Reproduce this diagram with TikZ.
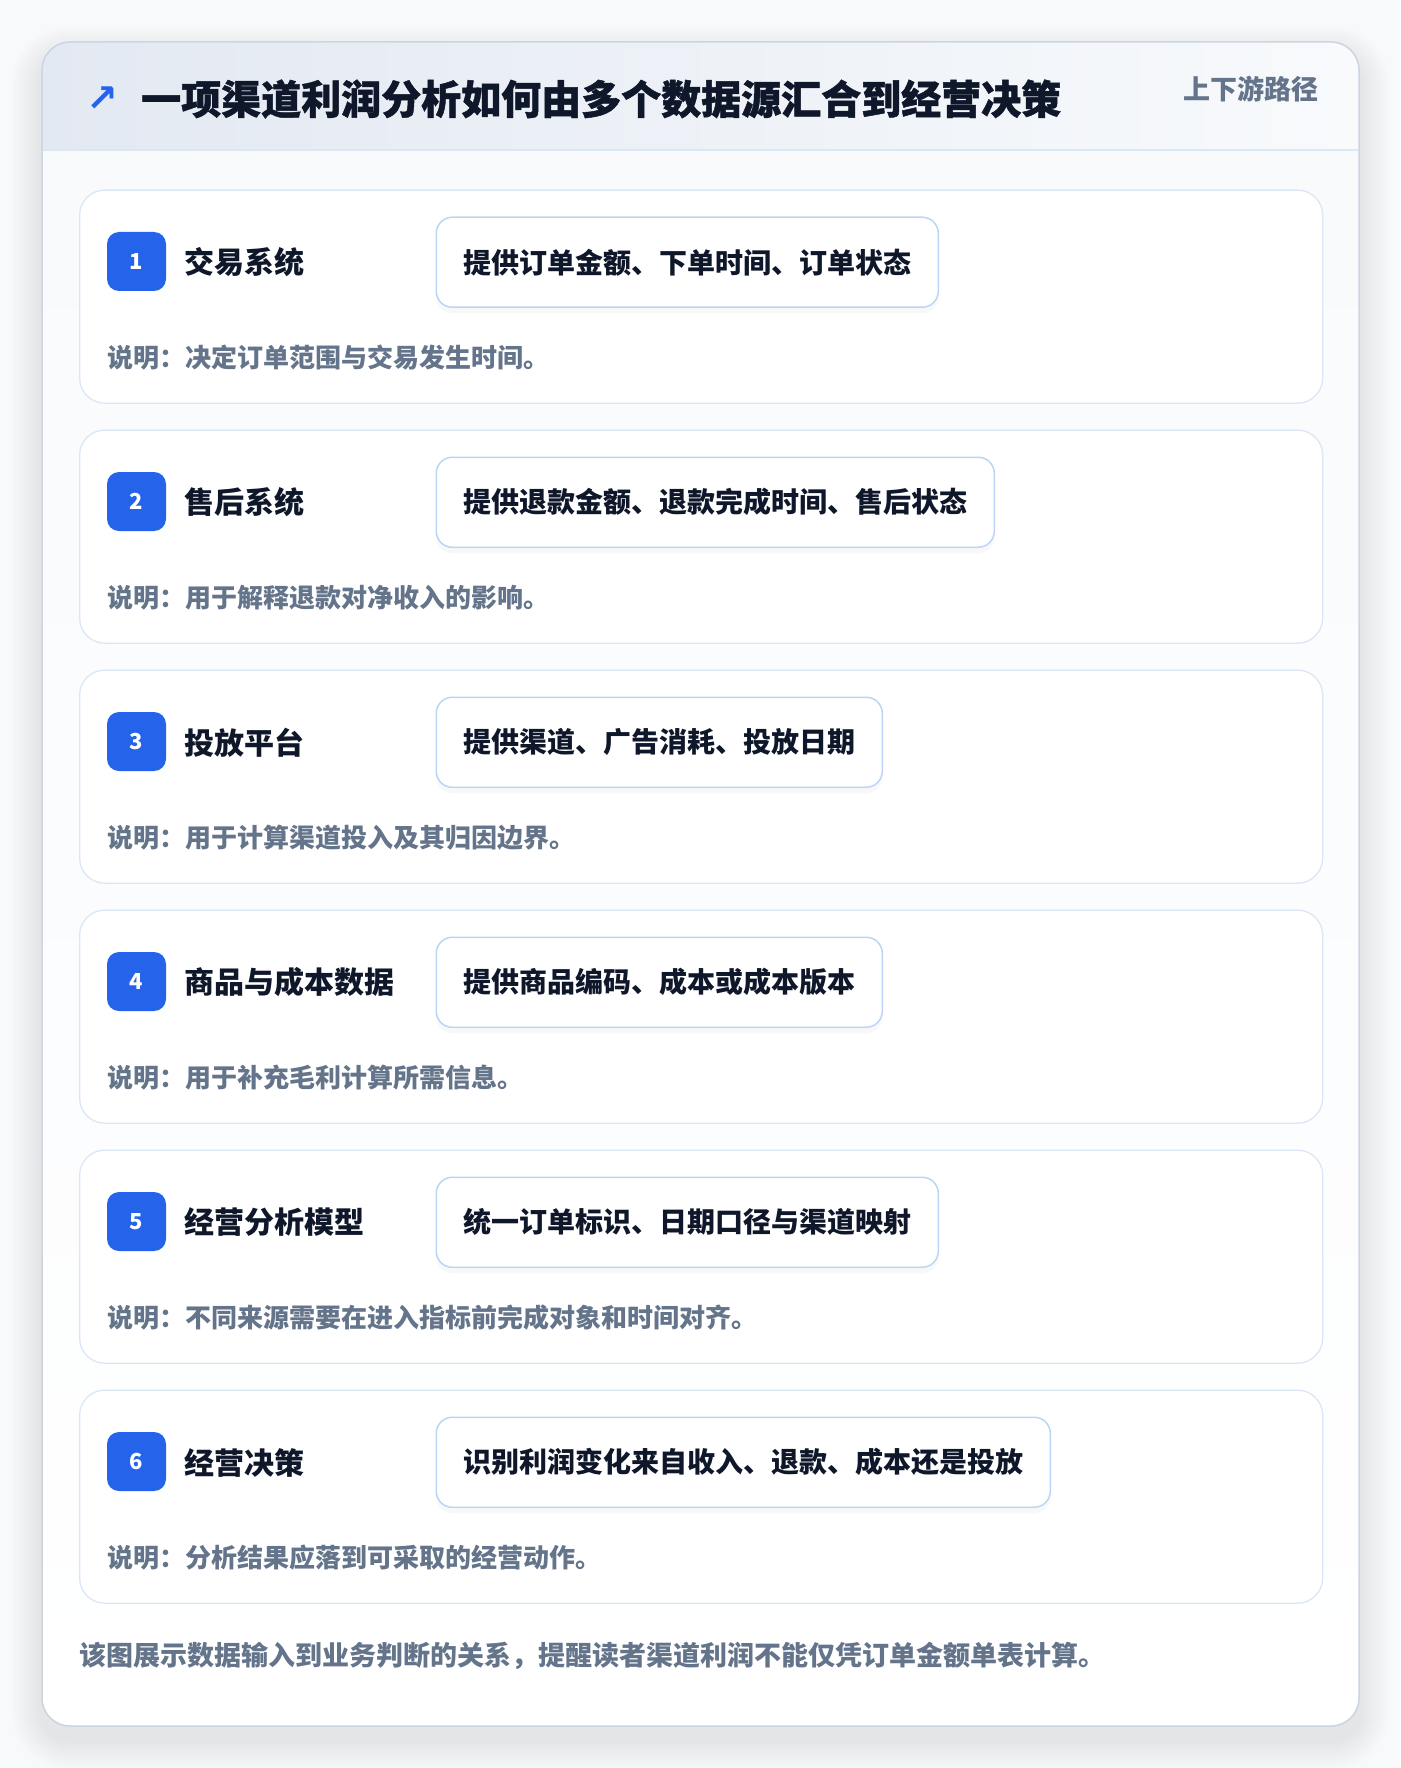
\documentclass[tikz,border=0pt]{standalone}
\usepackage{fontspec}
\setmainfont{Noto Sans CJK SC}
\newfontfamily\titlefont{Noto Sans CJK SC}[BoldFeatures={FakeBold=1.2}]
\newfontfamily\symfont{DejaVu Sans}
\usetikzlibrary{shadows}

\definecolor{pagebg}{HTML}{F8F9FB}
\definecolor{framecol}{HTML}{CBD5E1}
\definecolor{headleft}{HTML}{E3E9F2}
\definecolor{headright}{HTML}{F8FAFC}
\definecolor{headline}{HTML}{DCE7F6}
\definecolor{bodytop}{HTML}{F8FAFC}
\definecolor{cardline}{HTML}{DBE7F7}
\definecolor{boxline}{HTML}{BCD4F5}
\definecolor{badgeblue}{HTML}{2563EB}
\definecolor{inkdark}{HTML}{0F172A}
\definecolor{inkgray}{HTML}{64748B}

\tikzset{
  stepcard/.style={draw=cardline, line width=1.3pt, fill=white, rounded corners=25pt,
    minimum width=1243pt, minimum height=213pt, anchor=north west, inner sep=0pt},
  badge/.style={fill=badgeblue, rounded corners=12pt, minimum size=59pt, inner sep=0pt,
    text=white, font=\fontsize{22}{24}\selectfont\bfseries},
  stepname/.style={anchor=west, inner sep=0pt, text=inkdark, font=\fontsize{30}{34}\selectfont\bfseries},
  infobox/.style={draw=boxline, line width=1.5pt, fill=white, rounded corners=16pt,
    minimum height=90pt, inner xsep=27pt, anchor=north west, text=inkdark,
    font=\fontsize{28}{32}\selectfont\bfseries,
    drop shadow={opacity=0.05, shadow xshift=0pt, shadow yshift=-6pt}},
  note/.style={anchor=west, inner sep=0pt, text=inkgray, font=\fontsize{26}{30}\selectfont\bfseries},
}

\begin{document}
\begin{tikzpicture}[x=1pt, y=-1pt]
  \useasboundingbox (0,0) rectangle (1400,1768);
  \fill[pagebg] (0,0) rectangle (1400,1768);

  % soft shadow round the frame
  \foreach \s in {3,6,...,30}{
    \fill[black, opacity=0.006, rounded corners=28+\s] (42-\s,42-\s+14) rectangle (1359+\s,1726+\s+14);
  }

  % frame and header
  \begin{scope}
    \clip[rounded corners=28pt] (42,42) rectangle (1359,1726);
    \shade[top color=bodytop, bottom color=white] (42,150) rectangle (1359,1726);
    \shade[left color=headleft, right color=headright] (42,42) rectangle (1359,150);
  \end{scope}
  \draw[headline, line width=1.5pt] (42,150) -- (1359,150);
  \draw[framecol, line width=1.5pt, rounded corners=28pt] (42,42) rectangle (1359,1726);

  \node[text=badgeblue, font=\symfont\fontsize{38}{40}\selectfont\bfseries] (icon) at (102,99) {↗};
  \node[anchor=west, inner sep=0pt, text=inkdark, font=\titlefont\fontsize{40}{46}\selectfont\bfseries]
    (title) at (141,99) {一项渠道利润分析如何由多个数据源汇合到经营决策};
  \node[anchor=east, inner sep=0pt, text=inkgray, font=\fontsize{27}{30}\selectfont\bfseries]
    (tag) at (1319,89) {上下游路径};

  % steps
  \foreach \i/\name/\info/\desc in {
    1/交易系统/提供订单金额、下单时间、订单状态/说明：决定订单范围与交易发生时间。,
    2/售后系统/提供退款金额、退款完成时间、售后状态/说明：用于解释退款对净收入的影响。,
    3/投放平台/提供渠道、广告消耗、投放日期/说明：用于计算渠道投入及其归因边界。,
    4/商品与成本数据/提供商品编码、成本或成本版本/说明：用于补充毛利计算所需信息。,
    5/经营分析模型/统一订单标识、日期口径与渠道映射/说明：不同来源需要在进入指标前完成对象和时间对齐。,
    6/经营决策/识别利润变化来自收入、退款、成本还是投放/说明：分析结果应落到可采取的经营动作。}{
    \node[stepcard] (card\i) at (79,{189.5+240*(\i-1)}) {};
    \node[badge] (badge\i) at ([xshift=57.5pt,yshift=-72pt]card\i.north west) {\i};
    \node[stepname] (name\i) at ([xshift=105pt,yshift=-73pt]card\i.north west) {\name};
    \node[infobox] (info\i) at ([xshift=356.5pt,yshift=-27pt]card\i.north west) {\info};
    \node[note] (desc\i) at ([xshift=28pt,yshift=-168pt]card\i.north west) {\desc};
  }

  \node[note, font=\fontsize{27}{30}\selectfont\bfseries] (footer) at (79,1656)
    {该图展示数据输入到业务判断的关系，提醒读者渠道利润不能仅凭订单金额单表计算。};
\end{tikzpicture}
\end{document}
